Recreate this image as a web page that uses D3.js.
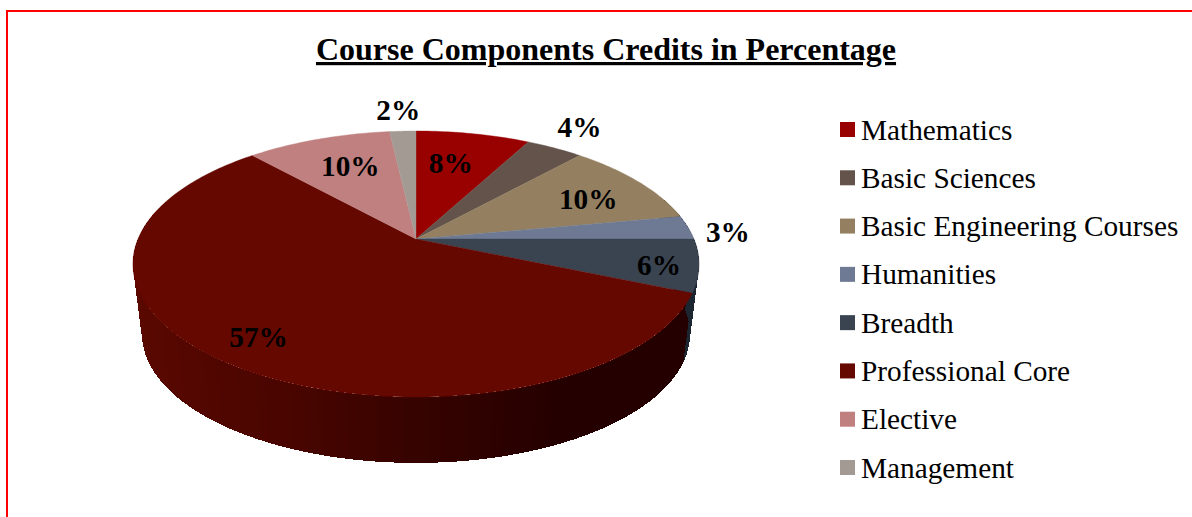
<!DOCTYPE html>
<html>
<head>
<meta charset="utf-8">
<script src="https://cdn.jsdelivr.net/npm/d3@7"></script>
<style>
html,body{margin:0;padding:0;background:#fff;overflow:hidden}
text{font-family:"Liberation Serif","Times New Roman",serif;fill:#000}
</style>
</head>
<body>
<svg id="chart" width="1192" height="517"></svg>
<script>
const titleText = "Course Components Credits in Percentage";
const categories = ["Mathematics","Basic Sciences","Basic Engineering Courses","Humanities","Breadth","Professional Core","Elective","Management"];
const values = [7.8,3.9,10.4,2.9,6.4,56.9,9.9,1.8];
const colors = ["#990000","#63534b","#948060","#6e7a93","#3a4450","#650800","#c18080","#a49a94"];
const wallColors = {4:"#1c2630"};
const wallShadeDomain = [-1,-0.4,0,0.45,1];
const wallShadeRange = ["#5c0900","#4a0500","#360300","#240000","#240000"];
const labelRadius = [0.68,1.25,0.74,1.13,0.86,0.84,0.68,1.23];
const labelNudge = [[-6,-1],[-4,-2],[4,3],[5,6],[1,3],[-2,-3],[4,-2],[-2,-1]];

const svg = d3.select("#chart");
const W = 1192, H = 517;

// Perspective projection of the unit disc
const k = 0.188, a = 278, b = 128.3, cx = 416;
const topDisc = {y:239, s:1}, baseDisc = {y:310, s:0.968};
function project(angle, r, disc){
  const u = r*Math.sin(angle), v = -r*Math.cos(angle), d = 1 - k*v;
  return [cx + disc.s*a*u/d, disc.y + disc.s*b*v/d];
}
const line = d3.line();
const pie = d3.pie().sort(null).value(d=>d).startAngle(0).endAngle(2*Math.PI);
const arcs = pie(values);
const shade = d3.scaleLinear().domain(wallShadeDomain).range(wallShadeRange);

// Frame
svg.append("path").attr("d", line([[7,H],[7,11],[W,11]]))
  .attr("fill","none").attr("stroke","#ff0000").attr("stroke-width",2);

// Side wall: overlapping facets, right to left so that each covers the previous seam
const step = Math.PI/180;
const wall = svg.append("g").attr("shape-rendering","crispEdges");
d3.range(Math.PI*1.60, Math.PI*0.40, -step).forEach(t=>{
  const t2 = t - step*3;
  const mid = t - step/2;
  const slice = arcs.find(s=> mid >= s.startAngle && mid < s.endAngle) || arcs[0];
  const fill = wallColors[slice.index] || shade(Math.sin(mid));
  wall.append("path")
    .attr("d", line([project(t,1,topDisc),project(t2,1,topDisc),project(t2,1,baseDisc),project(t,1,baseDisc)])+"Z")
    .attr("fill",fill);
});

// Top face
svg.append("g").selectAll("path").data(arcs).join("path")
  .attr("d", s=>{
    const n = Math.max(4, Math.ceil((s.endAngle-s.startAngle)/step));
    const pts = d3.range(n+1).map(i=>project(s.startAngle+(s.endAngle-s.startAngle)*i/n,1,topDisc));
    return line([project(0,0,topDisc),...pts])+"Z";
  })
  .attr("fill",(s,i)=>colors[i])
  .attr("stroke",(s,i)=>colors[i])
  .attr("stroke-width",0.4);

// Value labels
svg.append("g").selectAll("text").data(arcs).join("text")
  .attr("transform",(s,i)=>{
    const p = project((s.startAngle+s.endAngle)/2,labelRadius[i],topDisc);
    return `translate(${p[0]+labelNudge[i][0]},${p[1]+labelNudge[i][1]})`;
  })
  .attr("text-anchor","middle").attr("dy","0.34em")
  .attr("font-size",29.3).attr("font-weight","bold")
  .text(s=>Math.round(s.value)+"%");

// Title
svg.append("text").attr("x",606).attr("y",60).attr("text-anchor","middle")
  .attr("font-size",32).attr("font-weight","bold")
  .attr("text-decoration","underline").text(titleText);

// Legend
const legendY = d3.scalePoint().domain(categories).range([130,468]);
const legend = svg.append("g").selectAll("g").data(categories).join("g")
  .attr("transform",d=>`translate(840,${legendY(d)})`);
legend.append("rect").attr("x",0).attr("y",-8).attr("width",15).attr("height",15)
  .attr("fill",(d,i)=>colors[i]);
legend.append("text").attr("x",21).attr("y",9.5)
  .attr("font-size",29.3).text(d=>d);
</script>
</body>
</html>
